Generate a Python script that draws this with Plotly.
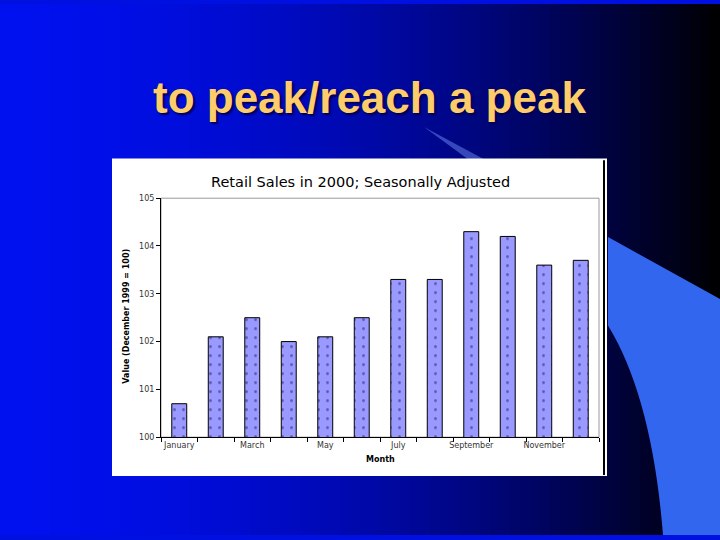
import plotly.graph_objects as go

W, H = 720, 540

# data
months = ["January", "February", "March", "April", "May", "June",
          "July", "August", "September", "October", "November", "December"]
sales_index = [100.7, 102.1, 102.5, 102.0, 102.1, 102.5,
               103.3, 103.3, 104.3, 104.2, 103.6, 103.7]
month_labels = ["January", "", "March", "", "May", "",
                "July", "", "September", "", "November", ""]
y_ticks = [100, 101, 102, 103, 104, 105]


def px(x):
    return x / W


def py(y):
    return 1 - y / H


shapes = []

# slide background: blue fading to black towards the right
n_strips = 72
for i in range(n_strips):
    t = (i + 0.5) / n_strips
    b = int(240 * (1 - t ** 1.8))
    g = int(18 * (1 - t))
    shapes.append(dict(type="rect", xref="paper", yref="paper", layer="below",
                       x0=i / n_strips, x1=(i + 1) / n_strips + 0.002, y0=0, y1=1,
                       fillcolor=f"rgb(0,{g},{max(b, 0)})", line_width=0))

# light blue swoosh on the right
swoosh = (f"M {px(608)},{py(237)} L {px(720)},{py(300)} L {px(720)},{py(540)} "
          f"L {px(663)},{py(540)} Q {px(652)},{py(400)} {px(608)},{py(327)} Z")
shapes.append(dict(type="path", xref="paper", yref="paper", layer="below", path=swoosh,
                   fillcolor="#3366EE", line_width=0))

# faint streak behind the chart
streak = f"M {px(424)},{py(125)} L {px(468)},{py(158)} L {px(484)},{py(158)} Z"
shapes.append(dict(type="path", xref="paper", yref="paper", layer="below", path=streak,
                   fillcolor="rgba(120,150,255,0.45)", line_width=0))

# white chart box
shapes.append(dict(type="rect", xref="paper", yref="paper", layer="below",
                   x0=px(112), x1=px(607), y0=py(480), y1=py(157),
                   fillcolor="white", line_width=0))
shapes.append(dict(type="line", xref="paper", yref="paper",
                   x0=px(604), x1=px(604), y0=py(159), y1=py(479),
                   line=dict(color="black", width=2)))

# grey frame round the plot area
shapes.append(dict(type="rect", xref="x domain", yref="y domain", layer="below",
                   x0=0, x1=1, y0=0, y1=1, line=dict(color="#999999", width=1),
                   fillcolor="rgba(0,0,0,0)"))

fig = go.Figure(go.Bar(
    x=months, y=sales_index,
    marker=dict(color="#9999FF", line=dict(color="black", width=1),
                pattern=dict(shape=".", fgcolor="#202060", size=9, solidity=0.08)),
))

fig.update_layout(
    width=W, height=H, autosize=False,
    margin=dict(l=0, r=0, t=0, b=0),
    paper_bgcolor="#0010E0", plot_bgcolor="white",
    showlegend=False, bargap=0.59,
    shapes=shapes,
    xaxis=dict(domain=[px(161), px(599)], type="category",
               tickvals=months, ticktext=month_labels, tickson="boundaries",
               ticks="outside", ticklen=4, tickcolor="black",
               showline=True, linecolor="black", linewidth=1, showgrid=False,
               tickfont=dict(family="DejaVu Sans", size=8, color="#333333"), tickangle=0),
    yaxis=dict(domain=[py(440.5), py(197.5)], range=[100, 105],
               tickvals=y_ticks, ticks="outside", ticklen=4, tickcolor="black",
               showline=True, linecolor="black", linewidth=1, showgrid=False,
               zeroline=False,
               tickfont=dict(family="DejaVu Sans", size=8, color="#333333")),
    annotations=[
        dict(text="to peak/reach a peak", xref="paper", yref="paper",
             x=px(370), y=py(95), xanchor="center", yanchor="middle", showarrow=False,
             font=dict(family="Liberation Sans", size=44, color="#FFCC6A",
                       weight="bold", shadow="2px 2px 2px #000050")),
        dict(text="Retail Sales in 2000; Seasonally Adjusted", xref="paper", yref="paper",
             x=px(360), y=py(181), xanchor="center", yanchor="middle", showarrow=False,
             font=dict(family="DejaVu Sans", size=14.5, color="black")),
        dict(text="<b>Month</b>", xref="paper", yref="paper",
             x=px(380), y=py(463), xanchor="center", yanchor="middle", showarrow=False,
             font=dict(family="DejaVu Sans", size=8, color="black")),
        dict(text="<b>Value (December 1999 = 100)</b>", xref="paper", yref="paper",
             x=px(127), y=py(318), xanchor="center", yanchor="middle", showarrow=False,
             textangle=-90,
             font=dict(family="DejaVu Sans", size=8, color="black")),
    ],
)

# page body has a default margin; drop it so the slide fills the window
fig.write_html("out.html", config={"displayModeBar": False},
               post_script="document.body.style.margin='0';")
